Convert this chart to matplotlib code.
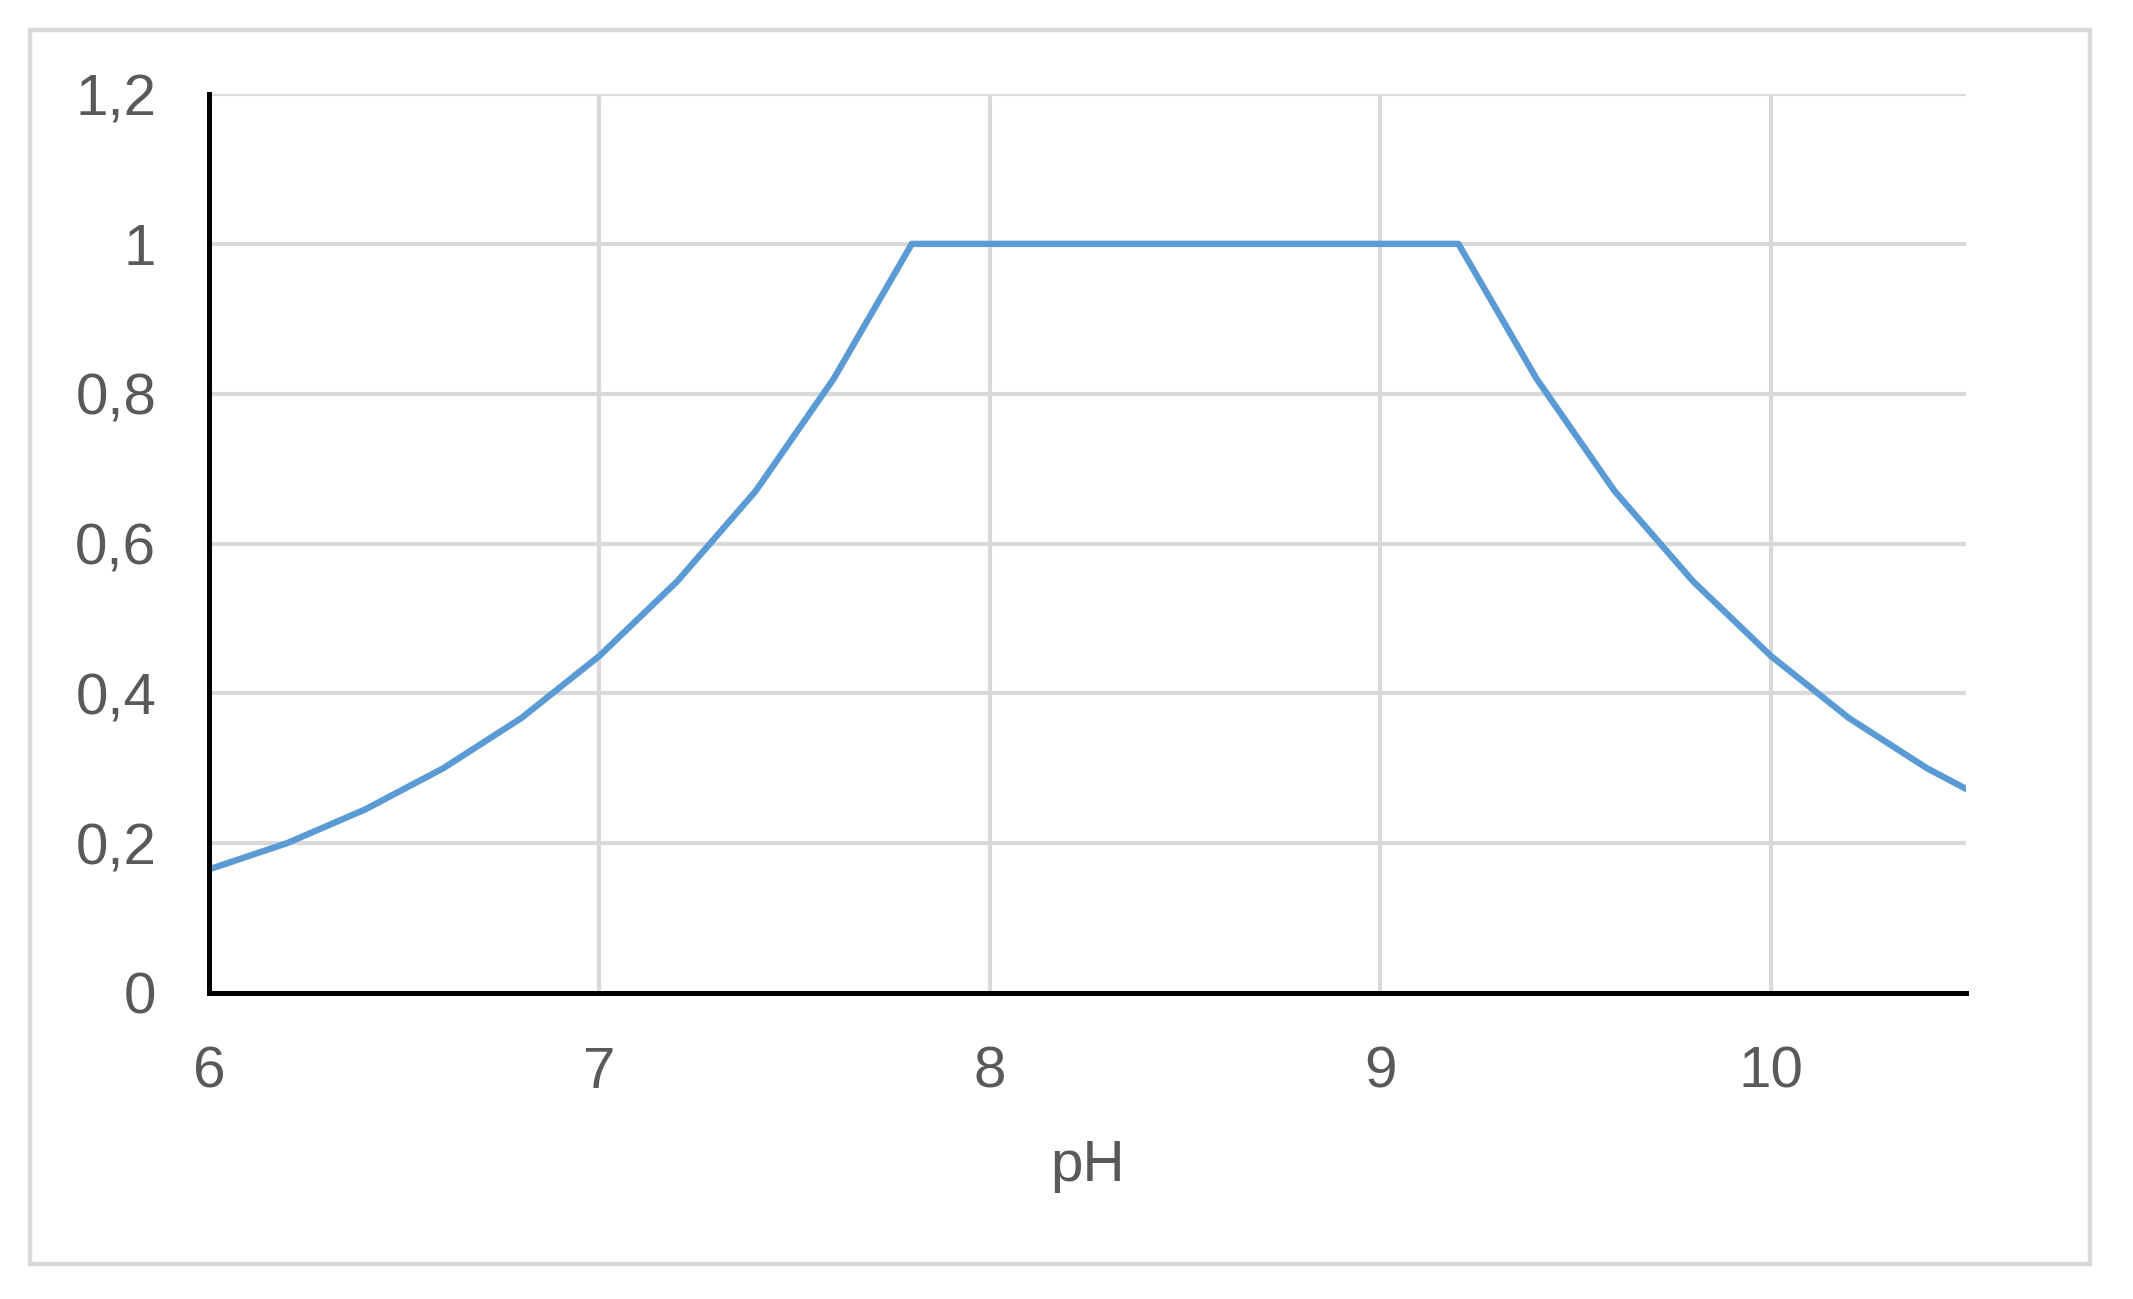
import matplotlib.pyplot as plt
from matplotlib.patches import Rectangle

ph = [6.0, 6.2, 6.4, 6.6, 6.8, 7.0, 7.2, 7.4, 7.6, 7.8, 8.0, 8.2, 8.4, 8.6,
      8.8, 9.0, 9.2, 9.4, 9.6, 9.8, 10.0, 10.2, 10.4, 10.6]
factor = [0.165, 0.20, 0.245, 0.30, 0.367, 0.45, 0.55, 0.67, 0.82, 1.0, 1.0, 1.0,
          1.0, 1.0, 1.0, 1.0, 1.0, 0.82, 0.67, 0.55, 0.45, 0.367, 0.30, 0.245]
xticks = [6, 7, 8, 9, 10]
yticks = [0, 0.2, 0.4, 0.6, 0.8, 1.0, 1.2]

plt.rcParams['font.family'] = ['Liberation Sans', 'DejaVu Sans']

fig = plt.figure(figsize=(21.33, 12.99), dpi=100)
fig.patches.append(Rectangle((0.014, 0.027), 0.966, 0.95, transform=fig.transFigure,
                             fill=False, edgecolor='#d9d9d9', linewidth=3.2))
ax = fig.add_axes([0.098, 0.2356, 0.8237, 0.692])

ax.plot(ph, factor, color='#5b9bd5', linewidth=4.6, solid_joinstyle='round', zorder=3)
ax.set_xlim(6, 10.5)
ax.set_ylim(0, 1.2)
ax.set_xticks(xticks)
ax.set_yticks(yticks)
ax.set_xticklabels([str(t) for t in xticks])
ax.set_yticklabels([('%g' % t).replace('.', ',') for t in yticks])
ax.grid(True, color='#d9d9d9', linewidth=3)
ax.set_axisbelow(True)

for s in ['top', 'right']:
    ax.spines[s].set_visible(False)
for s in ['left', 'bottom']:
    ax.spines[s].set_color('black')
    ax.spines[s].set_linewidth(3.6)
    ax.spines[s].set_zorder(4)

ax.tick_params(axis='both', length=0, labelsize=42, labelcolor='#595959')
ax.tick_params(axis='y', pad=38)
ax.tick_params(axis='x', pad=38)
ax.set_xlabel('pH', fontsize=42, color='#595959', labelpad=28)

fig.savefig('out.png', dpi=100)
